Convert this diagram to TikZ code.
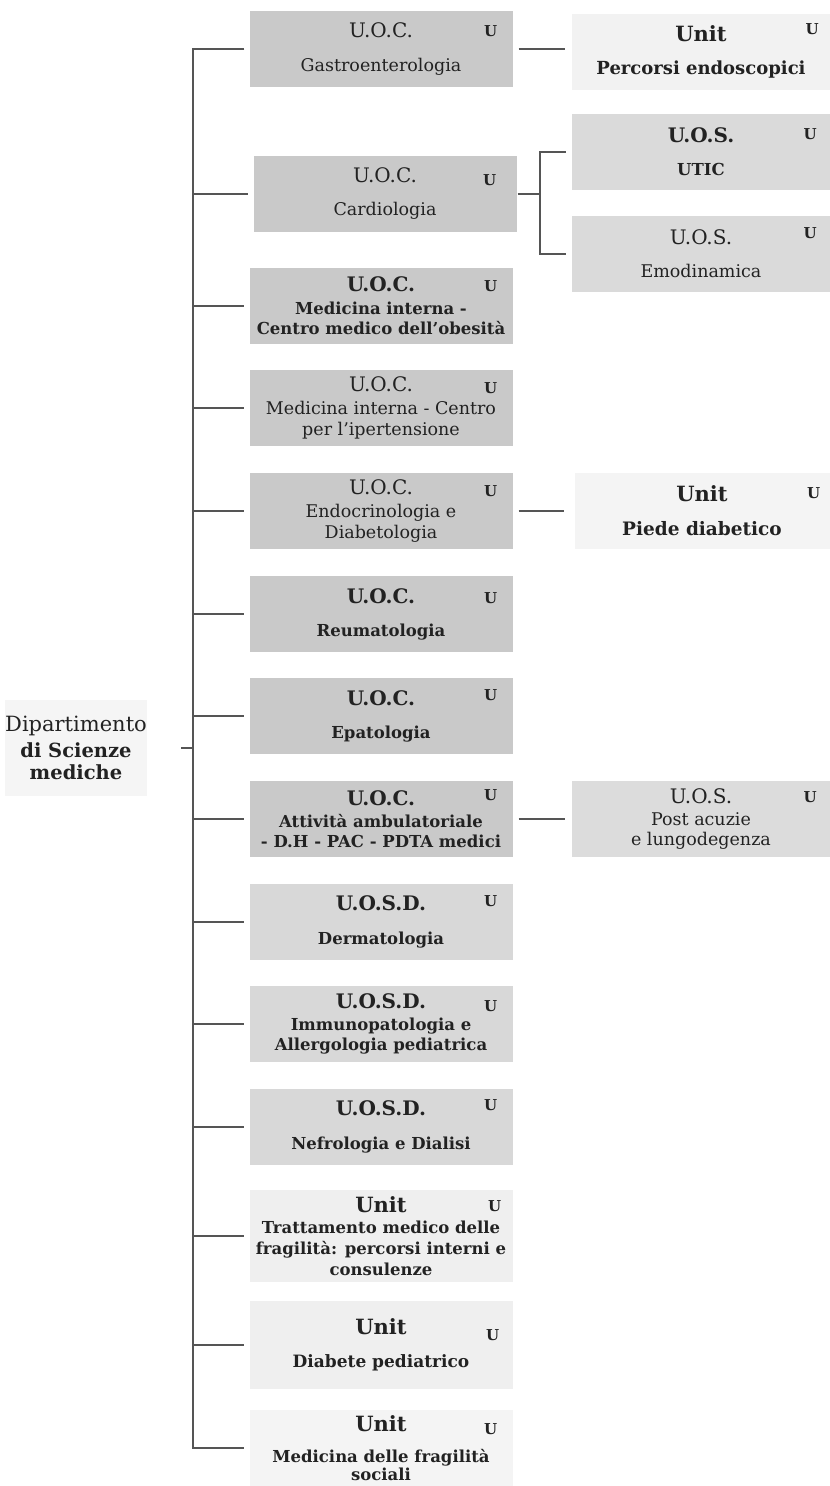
\documentclass[tikz,border=0pt]{standalone}
\usepackage{fontspec}
\setmainfont{DejaVu Serif}
\definecolor{gA}{HTML}{C9C9C9}
\definecolor{gB}{HTML}{D8D8D8}
\definecolor{gC}{HTML}{EFEFEF}
\definecolor{gR}{HTML}{DADADA}
\definecolor{txt}{HTML}{222222}
\definecolor{ln}{HTML}{555555}
\newcommand\boxttl[1]{{\fontsize{20}{20}\selectfont #1}}
\newcommand\boxunit[1]{{\bfseries\fontsize{21}{20}\selectfont #1}}
\begin{document}
\begin{tikzpicture}[x=1pt,y=-1pt,
  box/.style={inner sep=0pt, minimum height=76pt, align=center, text=txt,
    font=\fontsize{17.5}{20}\selectfont},
  bbody/.style={font=\bfseries\fontsize{16.5}{20}\selectfont},
  midbox/.style={box, minimum width=263pt, fill=gA},
  rbox/.style={box, minimum width=258pt, fill=gR},
  ulab/.style={inner sep=0pt, text=txt, font=\bfseries\fontsize{15}{15}\selectfont},
  conn/.style={draw=ln, line width=1.8pt}]
\useasboundingbox (0,0) rectangle (830,1486);
\fill[white] (0,0) rectangle (830,1486);

% department
\node[inner sep=0pt, minimum width=135pt, minimum height=96pt, fill=gC!60, align=center, text=txt,
  font=\fontsize{21}{24}\selectfont] (dept) at (76,748)
  {Dipartimento\\[2pt]{\bfseries\fontsize{19.5}{24}\selectfont di Scienze}\\[-2pt]{\bfseries\fontsize{19.5}{24}\selectfont mediche}};

% middle column
\node[midbox] (gastro) at (381,49) {\boxttl{U.O.C.}\\[14pt]Gastroenterologia};
\node[midbox] (cardio) at (385,194) {\boxttl{U.O.C.}\\[13pt]Cardiologia};
\node[midbox, bbody] (obes) at (381,306) {\boxttl{U.O.C.}\\[3pt]Medicina interna -\\[0pt]Centro medico dell'obesità};
\node[midbox] (iper) at (381,408) {\boxttl{U.O.C.}\\[3pt]Medicina interna - Centro\\[1pt]per l'ipertensione};
\node[midbox] (endo) at (381,511) {\boxttl{U.O.C.}\\[3pt]Endocrinologia e\\[1pt]Diabetologia};
\node[midbox, bbody] (reuma) at (381,614) {\boxttl{U.O.C.}\\[13pt]Reumatologia};
\node[midbox, bbody] (epato) at (381,716) {\boxttl{U.O.C.}\\[13pt]Epatologia};
\node[midbox, bbody] (attiv) at (381,819) {\boxttl{U.O.C.}\\[2pt]Attività ambulatoriale\\[0pt]- D.H - PAC - PDTA medici};
\node[midbox, fill=gB, bbody] (derm) at (381,922) {\boxttl{U.O.S.D.}\\[14pt]Dermatologia};
\node[midbox, fill=gB, bbody] (immuno) at (381,1024) {\boxttl{U.O.S.D.}\\[2pt]Immunopatologia e\\[0pt]Allergologia pediatrica};
\node[midbox, fill=gB, bbody] (nefro) at (381,1127) {\boxttl{U.O.S.D.}\\[14pt]Nefrologia e Dialisi};
\node[midbox, fill=gC, minimum height=92pt, bbody] (tratt) at (381,1236) {\boxunit{Unit}\\[1pt]Trattamento medico delle\\[1pt]fragilità: percorsi interni e\\[1pt]consulenze};
\node[midbox, fill=gC, minimum height=88pt, font=\bfseries\fontsize{17}{20}\selectfont] (diab) at (381,1345) {\boxunit{Unit}\\[13pt]Diabete pediatrico};
\node[midbox, fill=gC!70, minimum height=76pt, bbody] (fragsoc) at (381,1448) {\boxunit{Unit}\\[11pt]Medicina delle fragilità\\[-2pt]sociali};

% right column
\node[rbox, fill=gC!80, font=\bfseries\fontsize{18}{20}\selectfont] (percorsi) at (701,52) {\boxunit{Unit}\\[13pt]Percorsi endoscopici};
\node[rbox, bbody] (utic) at (701,152) {\boxttl{U.O.S.}\\[13pt]UTIC};
\node[rbox] (emod) at (701,254) {\boxttl{U.O.S.}\\[13pt]Emodinamica};
\node[rbox, fill=gC!70, minimum width=255pt, font=\bfseries\fontsize{18.5}{20}\selectfont] (piede) at (702,511) {\boxunit{Unit}\\[14pt]Piede diabetico};
\node[rbox, fill=gB!90] (post) at (701,819) {\boxttl{U.O.S.}\\[2pt]Post acuzie\\[0pt]e lungodegenza};

% U labels
\foreach \n/\dx/\dy in {gastro/-22/-20, cardio/-27/-24, obes/-22/-18, iper/-22/-18, endo/-22/-18,
  reuma/-22/-22, epato/-22/-17, attiv/-22/-14, derm/-22/-17, immuno/-22/-20, nefro/-22/-16,
  tratt/-18/-16, diab/-20/-34, fragsoc/-22/-19, percorsi/-18/-15, utic/-20/-20, emod/-20/-17,
  piede/-16/-20, post/-20/-16}
  \node[ulab] (u\n) at ([xshift=\dx pt, yshift=\dy pt]\n.north east) {U};

% trunk
\coordinate (tt) at (193,49);
\coordinate (tb) at (193,1448);
\draw[conn] ([xshift=-5pt]gastro.west) -| (tb) -- ([xshift=-5pt]fragsoc.west);
\foreach \n in {cardio,obes,iper,endo,reuma,epato,attiv,derm,immuno,nefro,tratt,diab}
  \draw[conn] (\n.west -| tt) -- ([xshift=-5pt]\n.west);
\draw[conn] ([xshift=34pt]dept.east) -- (dept.east -| tt);

% right connections
\draw[conn] ([xshift=6pt]gastro.east) -- ([xshift=-7pt]percorsi.west |- gastro.east);
\coordinate (cb) at (540,194);
\draw[conn] ([xshift=1pt]cardio.east) -- (cb);
\draw[conn] ([xshift=-6pt]utic.west) -| (cb) |- ([xshift=-6pt]emod.west);
\draw[conn] ([xshift=6pt]endo.east) -- ([xshift=-10pt]piede.west);
\draw[conn] ([xshift=6pt]attiv.east) -- ([xshift=-7pt]post.west);
\end{tikzpicture}
\end{document}
